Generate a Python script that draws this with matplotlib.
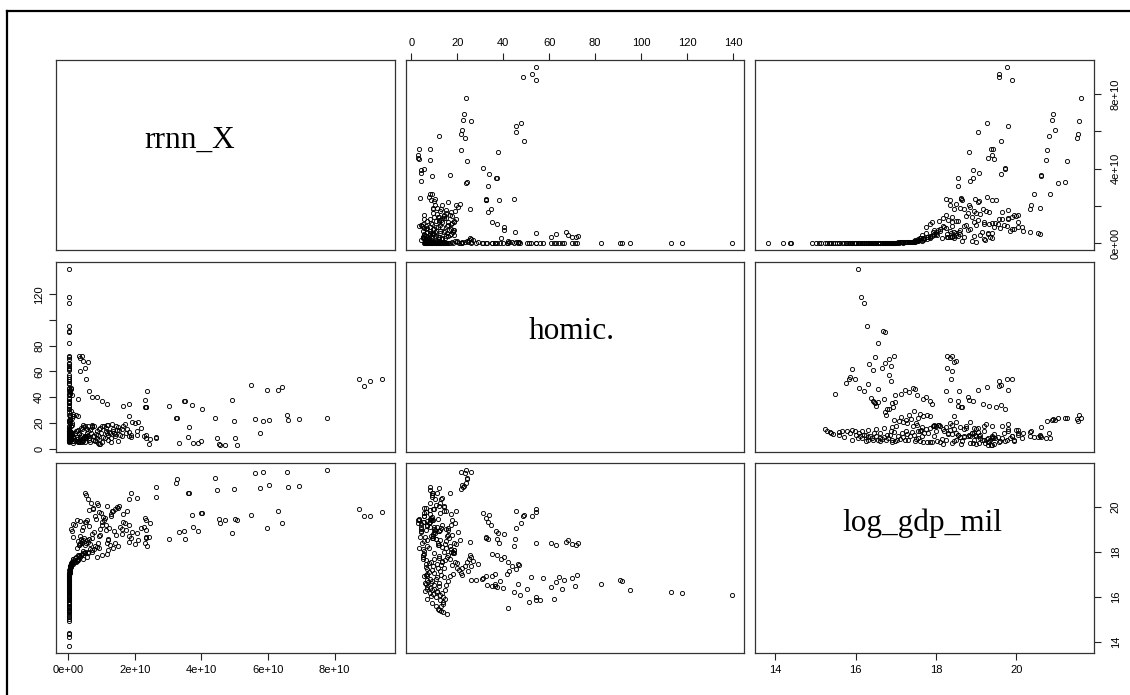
import numpy as np
import matplotlib

matplotlib.use("Agg")
import matplotlib.pyplot as plt

var_names = ["rrnn_X", "homic.", "log_gdp_mil"]

# rrnn_X values are written in units of 1e10
X_UNIT = 1e10

# countries with high homicide and low gdp
x_a = [0.01, 0.01, 0.01, 0.01, 0.02, 0.02, 0.02, 0.02, 0.03, 0.03,
       0.01, 0.01, 0.02, 0.03, 0.03, 0.01, 0.01, 0.01, 0.01, 0.01,
       0.02, 0.03, 0.01, 0.01, 0.01, 0.01, 0.02, 0.02, 0.02, 0.02,
       0.02, 0.03, 0.02, 0.02]
h_a = [139.6, 117.7, 113.1, 95.3, 91.7, 91.0, 82.4, 71.1, 70.0, 72.0,
       65.5, 61.0, 62.8, 66.6, 64.4, 62.0, 55.9, 54.3, 54.1, 51.2,
       57.4, 52.3, 42.2, 47.4, 44.8, 50.2, 46.6, 39.7, 37.4, 36.6,
       33.0, 38.6, 36.3, 35.3]
g_a = [16.06, 16.14, 16.21, 16.28, 16.68, 16.73, 16.56, 16.49, 16.84, 16.95,
       16.33, 16.43, 16.65, 16.73, 16.87, 15.91, 15.86, 15.84, 15.99, 15.77,
       16.82, 16.88, 15.50, 16.08, 16.20, 16.32, 16.56, 16.39, 16.43, 16.47,
       16.51, 16.70, 16.55, 16.49]

# mid homicide, gdp 16.7 - 17.9
x_c1 = [0.03, 0.04, 0.05, 0.06, 0.07, 0.08, 0.10, 0.30, 0.86, 0.02,
        0.02, 0.03, 0.02, 0.03, 0.03, 0.03, 1.00, 1.16]
h_c1 = [41.5, 42.5, 45.6, 44.0, 46.9, 46.6, 42.0, 38.9, 40.4, 28.3,
        30.9, 31.2, 26.0, 35.3, 36.5, 32.7, 37.2, 35.0]
g_c1 = [16.99, 17.12, 17.22, 17.34, 17.42, 17.47, 17.54, 17.67, 17.74, 16.74,
        16.79, 16.83, 16.75, 16.90, 16.99, 16.93, 17.85, 17.90]

# high homicide, gdp 18.2 - 19.9
x_c2 = [0.32, 0.40, 0.58, 0.35, 0.45, 0.50, 0.35, 0.52, 2.36, 2.31,
        0.62, 3.51, 3.04, 2.34, 0.70, 4.91, 3.49, 5.98, 6.43, 1.83,
        1.65, 2.32, 3.72, 4.03, 9.07, 9.44, 8.73, 8.90, 6.29, 5.48,
        2.33]
h_c2 = [71.9, 72.4, 67.5, 70.1, 68.0, 62.9, 60.6, 54.4, 44.6, 38.2,
        45.1, 37.4, 33.5, 32.7, 40.2, 37.6, 36.8, 45.6, 47.9, 34.8,
        33.5, 32.7, 34.0, 31.2, 52.5, 54.1, 54.3, 48.5, 45.4, 49.2,
        32.3]
g_c2 = [18.27, 18.39, 18.44, 18.35, 18.50, 18.27, 18.39, 18.37, 18.25, 18.36,
        18.58, 18.56, 18.56, 18.62, 18.80, 18.82, 18.91, 19.04, 19.26, 19.17,
        19.32, 19.49, 19.63, 19.73, 19.57, 19.77, 19.90, 19.57, 19.80, 19.62,
        18.64]

# homicide 8 - 26 band, up to the richest countries
x_c3 = [1.82, 0.30, 0.22, 0.15, 0.05, 0.06, 0.03, 0.03, 0.04, 0.12,
        0.08, 0.45, 0.55, 0.70, 1.20, 1.35, 2.02, 1.50, 1.25, 1.40,
        1.88, 2.06, 2.34, 2.28, 2.46, 2.33, 1.10, 1.65, 1.78, 1.47,
        1.53, 0.67, 0.60, 2.65, 0.53, 3.59, 4.46, 5.77, 3.63, 4.98,
        6.61, 3.23, 3.27, 5.62, 6.56, 7.78, 6.92, 6.04, 5.86, 4.41,
        2.65, 0.50, 1.84, 2.06, 1.90]
h_c3 = [25.5, 25.5, 25.8, 25.2, 26.0, 23.2, 20.9, 21.6, 19.8, 18.8,
        17.5, 17.0, 15.5, 18.0, 18.5, 15.2, 19.6, 16.8, 11.9, 11.4,
        9.3, 10.3, 10.3, 9.8, 7.7, 8.5, 8.5, 17.3, 15.2, 14.2,
        14.4, 12.4, 10.1, 8.8, 9.0, 9.0, 8.0, 12.1, 16.7, 21.4,
        22.4, 23.7, 24.2, 23.2, 25.8, 23.7, 22.8, 22.0, 21.6, 24.0,
        8.3, 9.5, 13.0, 13.5, 11.0]
g_c3 = [18.44, 17.86, 17.78, 17.69, 17.34, 17.38, 17.17, 17.07, 17.29, 17.52,
        17.42, 17.66, 17.74, 17.96, 18.07, 18.17, 18.34, 18.25, 18.31, 18.40,
        18.60, 18.83, 18.96, 19.07, 19.28, 19.39, 19.47, 19.65, 19.80, 19.99,
        20.03, 20.17, 20.34, 20.43, 20.53, 20.62, 20.74, 20.82, 20.62, 20.76,
        20.88, 21.04, 21.22, 21.50, 21.55, 21.62, 20.90, 20.96, 21.53, 21.25,
        20.85, 20.60, 20.33, 20.37, 20.60]

# low homicide band
x_l = [0.01, 0.01, 0.01, 0.01, 0.01, 0.01, 0.01, 0.01, 0.01, 0.01,
       0.01, 0.01, 0.01, 0.01, 0.02, 0.02, 0.02, 0.02, 0.02, 0.03,
       0.05, 0.15, 0.25, 0.30, 0.35, 0.40, 0.45, 0.93, 2.42, 3.33,
       3.91, 3.76, 0.15, 1.00, 5.07, 5.02, 1.30, 4.00, 1.50, 4.72,
       4.55, 4.53]
h_l = [15.5, 13.9, 12.9, 11.6, 13.1, 13.7, 13.7, 14.7, 13.9, 12.4,
       9.5, 8.0, 5.9, 6.9, 6.7, 6.4, 7.2, 6.9, 6.9, 6.2,
       6.9, 6.2, 6.2, 5.2, 4.9, 5.4, 5.7, 3.4, 3.6, 4.4,
       4.1, 4.4, 4.4, 4.9, 3.1, 8.0, 5.4, 5.7, 5.7, 2.9,
       2.9, 3.5]
g_l = [15.23, 15.30, 15.37, 15.45, 15.58, 15.67, 15.78, 15.91, 15.98, 16.08,
       16.11, 16.16, 16.25, 16.32, 16.44, 16.57, 16.66, 16.76, 16.90, 16.98,
       17.22, 17.47, 17.61, 17.69, 17.77, 17.90, 18.02, 18.17, 18.63, 18.85,
       18.93, 19.08, 19.22, 19.31, 19.38, 19.43, 19.56, 19.72, 19.95, 19.40,
       19.29, 19.45]

# low homicide, small rrnn_X, gdp 17.5 - 20.2
x_d = [0.22, 0.28, 0.31, 0.35, 0.41, 0.45, 0.37, 0.53, 0.57, 0.63,
       0.75, 0.71, 0.77, 0.85, 0.91, 0.87, 0.95, 0.79, 0.95, 1.01,
       1.08, 1.15, 1.13, 1.20, 1.31, 1.16, 1.34, 0.43, 0.49, 0.29,
       1.61, 1.82, 0.10, 0.07, 0.13, 0.20, 0.27, 0.35, 0.51]
h_d = [13.4, 14.7, 5.0, 8.7, 6.5, 8.3, 10.9, 8.3, 9.6, 8.3,
       6.5, 18.5, 17.3, 13.4, 6.5, 8.3, 4.0, 5.7, 16.0, 17.3,
       17.8, 18.5, 13.4, 10.9, 19.3, 12.0, 14.0, 18.5, 17.3, 5.7,
       9.6, 9.6, 12.0, 10.0, 6.0, 7.0, 9.0, 6.8, 5.5]
g_d = [17.55, 17.62, 17.85, 18.70, 18.95, 19.10, 18.55, 19.30, 19.40, 19.83,
       19.93, 18.05, 18.10, 18.20, 19.76, 20.15, 19.00, 19.60, 18.75, 19.20,
       19.40, 18.40, 19.20, 18.55, 19.80, 20.03, 19.80, 17.95, 18.00, 18.45,
       18.80, 18.70, 18.90, 19.00, 18.65, 19.20, 19.40, 19.35, 19.30]

# dense low homicide / low gdp block
x_e = [0.01, 0.01, 0.01, 0.01, 0.02, 0.02, 0.02, 0.02, 0.02, 0.03,
       0.04, 0.05, 0.06, 0.08, 0.10, 0.04, 0.18, 0.25, 0.02, 0.03,
       0.02, 0.02, 0.03, 0.03, 0.01, 0.01, 0.01, 0.07, 0.12, 0.05,
       0.15, 0.08, 0.10, 0.38, 0.33, 0.60, 0.50, 0.65, 0.80, 0.90]
h_e = [10.5, 11.0, 9.0, 8.0, 10.0, 12.0, 9.0, 8.0, 11.0, 13.0,
       10.0, 12.5, 14.0, 9.5, 11.0, 7.5, 8.5, 13.5, 6.0, 5.5,
       15.0, 16.0, 17.0, 18.0, 14.5, 7.0, 9.0, 6.5, 24.0, 22.0,
       27.0, 29.0, 20.0, 16.0, 12.0, 14.0, 10.0, 5.0, 7.0, 4.5]
g_e = [16.00, 16.20, 16.30, 16.40, 16.50, 16.60, 16.70, 16.80, 16.85, 16.95,
       17.05, 17.15, 17.25, 17.35, 17.45, 17.10, 17.55, 17.60, 16.60, 16.90,
       16.50, 16.70, 16.90, 17.00, 16.30, 15.90, 15.70, 17.30, 17.55, 17.25,
       17.60, 17.45, 17.50, 17.85, 17.80, 18.00, 17.95, 18.10, 18.25, 18.40]

# middle-income cloud, low homicide, rrnn_X up to 2e10
x_f = [0.25, 0.32, 0.40, 0.48, 0.55, 0.62, 0.70, 0.78, 0.84, 0.92,
       1.05, 1.12, 1.22, 1.28, 1.38, 1.45, 1.55, 1.62, 1.70, 1.75,
       0.58, 0.66, 0.74, 0.88, 0.98, 1.18, 1.42, 1.92, 2.10, 2.20]
h_f = [7.5, 11.5, 15.0, 9.0, 12.5, 7.0, 16.5, 10.0, 11.5, 15.5,
       9.0, 16.0, 13.0, 8.0, 12.0, 17.5, 11.0, 15.0, 19.0, 12.5,
       18.0, 14.5, 9.5, 10.5, 12.5, 7.0, 10.0, 20.5, 21.0, 16.0]
g_f = [18.15, 18.30, 18.45, 18.60, 18.50, 19.15, 18.60, 18.85, 19.45, 18.70,
       19.55, 18.95, 19.05, 19.65, 18.90, 18.75, 19.10, 19.00, 19.25, 18.95,
       17.92, 18.35, 19.90, 20.05, 19.70, 18.50, 19.90, 18.85, 18.50, 19.05]

# more low-gdp rows with rrnn_X near zero
x_g = [0.01, 0.01, 0.01, 0.01, 0.01, 0.01, 0.01, 0.02, 0.02, 0.02,
       0.03, 0.04, 0.05, 0.07, 0.09, 0.14, 0.20, 0.01, 0.03, 0.04]
h_g = [12.0, 10.5, 12.5, 8.5, 13.5, 10.0, 12.0, 8.5, 10.5, 14.0,
       7.0, 9.0, 11.5, 13.0, 7.5, 10.0, 12.0, 11.0, 22.0, 24.5]
g_g = [15.40, 15.60, 15.85, 16.05, 16.15, 16.35, 16.45, 16.62, 16.78, 16.88,
       17.02, 17.18, 17.28, 17.40, 17.50, 17.65, 17.70, 16.25, 16.95, 17.12]

# rows without a homicide value
x_n = [0.01, 0.01, 0.01, 0.01, 0.01, 0.01, 0.01, 0.01, 0.01, 0.01, 0.01, 0.01]
h_n = [np.nan] * 12
g_n = [13.81, 14.20, 14.36, 14.40, 14.91, 15.02, 15.10, 15.15, 15.35, 15.55, 15.75, 16.00]

x_groups = [x_a, x_c1, x_c2, x_c3, x_l, x_d, x_e, x_f, x_g, x_n]
h_groups = [h_a, h_c1, h_c2, h_c3, h_l, h_d, h_e, h_f, h_g, h_n]
g_groups = [g_a, g_c1, g_c2, g_c3, g_l, g_d, g_e, g_f, g_g, g_n]
for xs, hs, gs in zip(x_groups, h_groups, g_groups):
    if not (len(xs) == len(hs) == len(gs)):
        raise ValueError(f"group length mismatch: {len(xs)} {len(hs)} {len(gs)}")

rrnn_x = np.concatenate(x_groups) * X_UNIT
homic = np.concatenate(h_groups)
log_gdp = np.concatenate(g_groups)
cols = [rrnn_x, homic, log_gdp]

# axis ticks and labels
x_ticks = [0, 2e10, 4e10, 6e10, 8e10]
x_labels_bottom = ["0e+00", "2e+10", "4e+10", "6e+10", "8e+10"]
x_labels_right = ["0e+00", "", "4e+10", "", "8e+10"]
homic_ticks_top = [0, 20, 40, 60, 80, 100, 120, 140]
homic_ticks_left = [0, 20, 40, 60, 80, 100, 120]
homic_labels_left = ["0", "20", "40", "60", "80", "", "120"]
gdp_ticks = [14, 16, 18, 20]
gdp_labels = ["14", "16", "18", "20"]


def r_range(v):
    lo, hi = np.nanmin(v), np.nanmax(v)
    d = 0.04 * (hi - lo)
    return lo - d, hi + d


W, H = 1130, 695
fig = plt.figure(figsize=(W / 100, H / 100), dpi=100)
plt.rcParams["font.family"] = ["Liberation Sans", "DejaVu Sans"]

col_left = [56, 405.5, 755]
row_top = [60, 262, 463]
pw, ph = 339, 190

# partial outer frame (top and left edges are visible)
fig.add_artist(plt.Line2D([7 / W, 1.0], [1 - 11 / H, 1 - 11 / H], color="black", lw=1.6))
fig.add_artist(plt.Line2D([7 / W, 7 / W], [1 - 11 / H, 0.0], color="black", lw=1.6))

label_pos = {0: (0.395, 0.538), 1: (0.49, 0.595), 2: (0.493, 0.64)}
tick_kw = dict(direction="out", length=5, width=0.8, labelsize=8, pad=3.5, color="#222222")

axes = {}
for i in range(3):
    for j in range(3):
        ax = fig.add_axes([col_left[j] / W, 1 - (row_top[i] + ph) / H, pw / W, ph / H])
        axes[(i, j)] = ax
        ax.set_xlim(r_range(cols[j]))
        ax.set_ylim(r_range(cols[i]))
        for s in ax.spines.values():
            s.set_linewidth(0.9)
            s.set_color("#333333")
        ax.tick_params(axis="both", which="both", bottom=False, top=False, left=False, right=False,
                       labelbottom=False, labeltop=False, labelleft=False, labelright=False)
        if i == j:
            fx, fy = label_pos[i]
            ax.text(fx, fy, var_names[i], transform=ax.transAxes, ha="center", va="baseline",
                    fontsize=22.5, family=["Liberation Serif", "DejaVu Serif"])
        else:
            ax.plot(cols[j], cols[i], linestyle="none", marker="o", markersize=3.0,
                    markerfacecolor="none", markeredgecolor="black", markeredgewidth=0.65)

# top axis of column 2 (homic)
ax = axes[(0, 1)]
ax.set_xticks(homic_ticks_top)
ax.set_xticklabels([str(t) for t in homic_ticks_top])
ax.tick_params(axis="x", top=True, labeltop=True, **tick_kw)

# right axis of row 1 (rrnn_X)
ax = axes[(0, 2)]
ax.set_yticks(x_ticks)
ax.set_yticklabels(x_labels_right, rotation=90, va="center")
ax.tick_params(axis="y", right=True, labelright=True, **{**tick_kw, "pad": 7})

# left axis of row 2 (homic)
ax = axes[(1, 0)]
ax.set_yticks(homic_ticks_left)
ax.set_yticklabels(homic_labels_left, rotation=90, va="center")
ax.tick_params(axis="y", left=True, labelleft=True, **tick_kw)

# bottom axis of column 1 (rrnn_X)
ax = axes[(2, 0)]
ax.set_xticks(x_ticks)
ax.set_xticklabels(x_labels_bottom)
ax.tick_params(axis="x", bottom=True, labelbottom=True, **tick_kw)

# bottom and right axes of the log_gdp_mil panel
ax = axes[(2, 2)]
ax.set_xticks(gdp_ticks)
ax.set_xticklabels(gdp_labels)
ax.tick_params(axis="x", bottom=True, labelbottom=True, **tick_kw)
ax.set_yticks(gdp_ticks)
ax.set_yticklabels(gdp_labels, rotation=90, va="center")
ax.tick_params(axis="y", right=True, labelright=True, **{**tick_kw, "pad": 7})

fig.savefig("out.png", dpi=100)
